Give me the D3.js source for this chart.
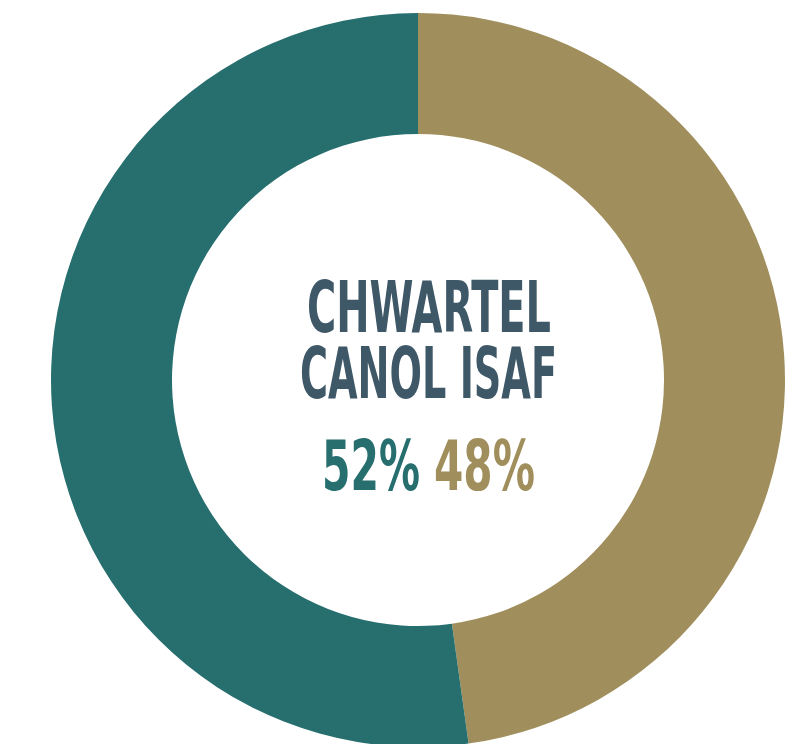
<!DOCTYPE html>
<html>
<head>
<meta charset="utf-8">
<script src="https://cdn.jsdelivr.net/npm/d3@7"></script>
<style>
  body { margin: 0; background: #fff; }
</style>
</head>
<body>
<div id="chart"></div>
<script>
// data
const labels = ["Gold", "Teal"]
const values = [47.8, 52.2]
const colors = ["#A08F5C", "#276E6E"]
const titleLines = ["CHWARTEL", "CANOL ISAF"]

const width = 806, height = 744
const cx = 418, cy = 380
const outerR = 367, innerR = 246

const svg = d3.select("#chart").append("svg")
  .attr("width", width)
  .attr("height", height)

const g = svg.append("g").attr("transform", "translate(" + cx + "," + cy + ")")

const pie = d3.pie().sort(null).value(d => d)
const arc = d3.arc().innerRadius(innerR).outerRadius(outerR)

g.selectAll("path")
  .data(pie(values))
  .enter().append("path")
  .attr("d", arc)
  .attr("fill", (d, i) => colors[i])

// centre title
const fontFam = "'Liberation Sans Narrow', 'DejaVu Sans Condensed', sans-serif"
const lineSpecs = [
  { y: 332, x0: 307, x1: 551 },
  { y: 398, x0: 300, x1: 557 }
]
titleLines.forEach((t, i) => {
  svg.append("text")
    .attr("x", lineSpecs[i].x0)
    .attr("y", lineSpecs[i].y)
    .attr("font-family", fontFam)
    .attr("font-weight", "bold")
    .attr("font-size", 72)
    .attr("textLength", lineSpecs[i].x1 - lineSpecs[i].x0)
    .attr("lengthAdjust", "spacingAndGlyphs")
    .attr("fill", "#3F5868")
    .text(t)
})

// percentages: teal first, then gold
const pctSpecs = [
  { v: values[1], c: colors[1], x0: 322, x1: 420 },
  { v: values[0], c: colors[0], x0: 434, x1: 535 }
]
pctSpecs.forEach(p => {
  svg.append("text")
    .attr("x", p.x0)
    .attr("y", 490)
    .attr("font-family", fontFam)
    .attr("font-weight", "bold")
    .attr("font-size", 69)
    .attr("textLength", p.x1 - p.x0)
    .attr("lengthAdjust", "spacingAndGlyphs")
    .attr("fill", p.c)
    .text(Math.round(p.v) + "%")
})
</script>
</body>
</html>
